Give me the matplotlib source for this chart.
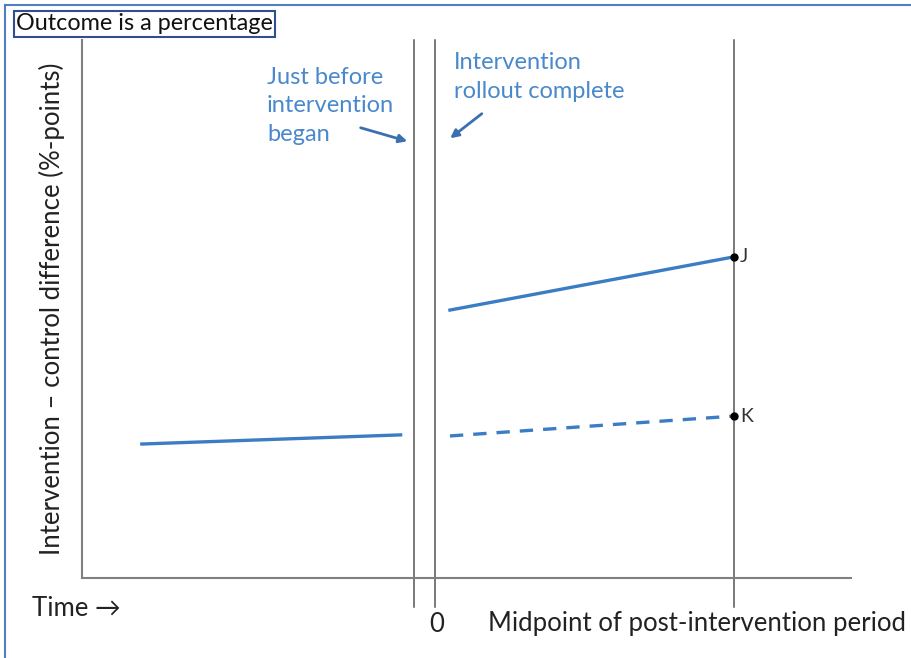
import matplotlib
matplotlib.use("Agg")
import matplotlib.pyplot as plt
from matplotlib.lines import Line2D

# time axis: 0 = rollout complete, 10 = midpoint of post-intervention period
pre_x = [-9.8, -1.15]
pre_y = [24.9, 26.6]
post_x = [0.5, 10.0]
post_y = [49.8, 59.7]          # observed, ends at J
counter_y = [26.4, 30.1]       # dashed counterfactual, ends at K
before_x = -0.7
rollout_x = 0.0
midpoint_x = 10.0

blue = "#3b7dc4"
text_blue = "#4a88cc"
plt.rcParams["font.family"] = ["Lato", "DejaVu Sans"]

fig = plt.figure(figsize=(9.12, 6.58), dpi=100)
ax = fig.add_axes([0.0899, 0.1216, 0.843, 0.8176])
ax.set_xlim(-11.8, 13.9)
ax.set_ylim(0, 100)
for s in ["top", "right"]:
    ax.spines[s].set_visible(False)
for s in ["left", "bottom"]:
    ax.spines[s].set_color("#808080")
    ax.spines[s].set_linewidth(1.5)
ax.set_xticks([])
ax.set_yticks([])

# vertical reference lines, running below the axis
for xv in [before_x, rollout_x, midpoint_x]:
    ax.axvline(xv, ymin=-0.054, ymax=1.0, color="#555555", lw=1.1, clip_on=False)

ax.plot(pre_x, pre_y, color=blue, lw=2.4)
ax.plot(post_x, post_y, color=blue, lw=2.4)
ax.plot(post_x, counter_y, color=blue, lw=2.4, ls=(0, (4, 3)))
ax.plot([post_x[1]], [post_y[1]], "o", color="black", ms=5)
ax.plot([post_x[1]], [counter_y[1]], "o", color="black", ms=5)
ax.text(post_x[1] + 0.2, post_y[1], "J", fontsize=14, va="center", color="#333333")
ax.text(post_x[1] + 0.2, counter_y[1], "K", fontsize=14, va="center", color="#333333")

ax.set_ylabel("Intervention \u2013 control difference (%-points)", fontsize=18.5,
              color="#222222", labelpad=12)

# annotations
fig.text(267 / 912, 1 - 106 / 658, "Just before\nintervention\nbegan", fontsize=17,
         color=text_blue, va="center", ha="left", linespacing=1.45)
fig.text(454 / 912, 1 - 77 / 658, "Intervention\nrollout complete", fontsize=17,
         color=text_blue, va="center", ha="left", linespacing=1.45)
ax.annotate("", xy=(410 / 912, 1 - 142 / 658), xytext=(358 / 912, 1 - 127 / 658),
            xycoords="figure fraction", textcoords="figure fraction",
            arrowprops=dict(arrowstyle="-|>", color="#3b6fb0", lw=2, mutation_scale=12))
ax.annotate("", xy=(448 / 912, 1 - 140 / 658), xytext=(484 / 912, 1 - 112 / 658),
            xycoords="figure fraction", textcoords="figure fraction",
            arrowprops=dict(arrowstyle="-|>", color="#3b6fb0", lw=2, mutation_scale=12))

# bottom labels
fig.text(32 / 912, 1 - 608 / 658, "Time \u2192", fontsize=18.5, va="center", color="#222222")
fig.text(437 / 912, 1 - 624 / 658, "0", fontsize=18.5, va="center", ha="center", color="#222222")
fig.text(488 / 912, 1 - 624 / 658, "Midpoint of post-intervention period", fontsize=18.5,
         va="center", color="#222222")

# title box
fig.text(16 / 912, 1 - 24 / 658, "Outcome is a percentage", fontsize=16.8, va="center",
         color="#111111",
         bbox=dict(boxstyle="square,pad=0.1", fc="white", ec="#2f4f8f", lw=1.5))

# outer frame
fig.add_artist(Line2D([5 / 912, 5 / 912], [0, 1 - 5 / 658], transform=fig.transFigure,
                      color="#4f7fc0", lw=1.5))
fig.add_artist(Line2D([5 / 912, 1], [1 - 5 / 658, 1 - 5 / 658], transform=fig.transFigure,
                      color="#4f7fc0", lw=1.5))

fig.savefig("out.png", dpi=100)
